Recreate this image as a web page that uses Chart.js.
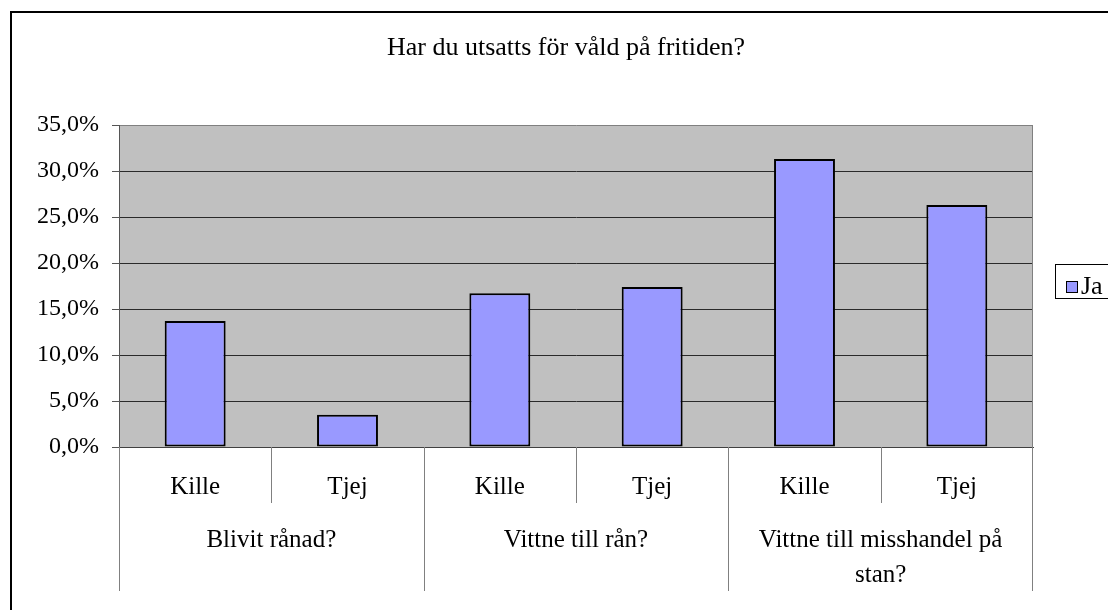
<!DOCTYPE html>
<html>
<head>
<meta charset="utf-8">
<script src="https://cdn.jsdelivr.net/npm/chart.js@4/dist/chart.umd.min.js"></script>
<style>
  html, body { margin: 0; padding: 0; background: #fff; }
  #wrap { width: 1108px; height: 610px; }
</style>
</head>
<body>
<div id="wrap"><canvas id="myChart" width="1108" height="610"></canvas></div>
<script>
// data
const titleText = 'Har du utsatts för våld på fritiden?';
const categories = ['Kille', 'Tjej', 'Kille', 'Tjej', 'Kille', 'Tjej'];
const groupLabels = [['Blivit rånad?'], ['Vittne till rån?'], ['Vittne till misshandel på', 'stan?']];
const groupSize = 2;
const seriesName = 'Ja';
const jaValues = [13.7, 3.5, 16.7, 17.4, 31.3, 26.3];
const yMin = 0, yMax = 35, yStep = 5;

const serif = "'Liberation Serif', 'Times New Roman', serif";

function pct(v) {
    return v.toFixed(1).replace('.', ',') + '%';
}

const excelLook = {
    id: 'excelLook',
    beforeDraw(chart) {
        const ctx = chart.ctx;
        const a = chart.chartArea;
        ctx.save();
        ctx.fillStyle = '#fff';
        ctx.fillRect(0, 0, chart.width, chart.height);
        ctx.fillStyle = '#c0c0c0';
        ctx.fillRect(a.left, a.top, a.right - a.left, a.bottom - a.top);
        ctx.restore();
    },
    afterDraw(chart) {
        const ctx = chart.ctx;
        const a = chart.chartArea;
        const x = chart.scales.x;
        ctx.save();

        // outer frame (only top and left are inside the picture)
        ctx.strokeStyle = '#000';
        ctx.lineWidth = 2;
        ctx.beginPath();
        ctx.moveTo(11, chart.height + 2);
        ctx.lineTo(11, 12);
        ctx.lineTo(chart.width + 2, 12);
        ctx.stroke();

        // title
        ctx.fillStyle = '#000';
        ctx.font = '26px ' + serif;
        ctx.textAlign = 'center';
        ctx.textBaseline = 'middle';
        ctx.fillText(titleText, 566, 48);

        // plot area border, right side
        ctx.strokeStyle = '#808080';
        ctx.lineWidth = 1;
        ctx.beginPath();
        ctx.moveTo(a.right - 0.5, a.top);
        ctx.lineTo(a.right - 0.5, a.bottom);
        ctx.stroke();

        // category axis: two levels of labels with separators
        const half = (x.getPixelForValue(1) - x.getPixelForValue(0)) / 2;
        ctx.strokeStyle = '#808080';
        ctx.font = '25px ' + serif;
        categories.forEach((c, i) => {
            const cx = x.getPixelForValue(i);
            ctx.fillText(c, cx, 487);
            const left = Math.round(cx - half) + 0.5;
            const isGroupEdge = i % groupSize === 0;
            ctx.beginPath();
            ctx.moveTo(left, a.bottom);
            ctx.lineTo(left, isGroupEdge ? 591 : 503);
            ctx.stroke();
        });
        const lastRight = Math.round(x.getPixelForValue(categories.length - 1) + half) - 0.5;
        ctx.beginPath();
        ctx.moveTo(lastRight, a.bottom);
        ctx.lineTo(lastRight, 591);
        ctx.stroke();

        groupLabels.forEach((lines, g) => {
            const c0 = x.getPixelForValue(g * groupSize);
            const c1 = x.getPixelForValue(g * groupSize + groupSize - 1);
            const cx = (c0 + c1) / 2;
            lines.forEach((t, k) => ctx.fillText(t, cx, 540 + k * 35));
        });

        // legend (cut off at the right edge)
        ctx.strokeStyle = '#000';
        ctx.lineWidth = 1;
        ctx.strokeRect(1055.5, 264.5, 80, 34);
        ctx.fillStyle = chart.data.datasets[0].backgroundColor;
        ctx.fillRect(1066, 281, 12, 12);
        ctx.strokeRect(1066.5, 281.5, 11, 11);
        ctx.fillStyle = '#000';
        ctx.font = '26px ' + serif;
        ctx.textAlign = 'left';
        ctx.fillText(seriesName, 1081, 287);

        ctx.restore();
    }
};

const config = {
    type: 'bar',
    data: {
        labels: categories,
        datasets: [{
            label: seriesName,
            data: jaValues,
            backgroundColor: '#9999ff',
            borderColor: '#000',
            borderWidth: 2,
            borderSkipped: false,
            barPercentage: 0.4,
            categoryPercentage: 1.0,
        }]
    },
    options: {
        responsive: false,
        animation: false,
        layout: {
            padding: { left: 0, top: 125, right: 75, bottom: 0 }
        },
        scales: {
            x: {
                grid: { display: false },
                border: { display: true, color: '#404040', width: 1 },
                ticks: { display: false },
                afterFit(scale) { scale.height = 163; }
            },
            y: {
                min: yMin,
                max: yMax,
                ticks: {
                    stepSize: yStep,
                    color: '#000',
                    padding: 13,
                    font: { family: serif, size: 24 },
                    callback: v => pct(v)
                },
                grid: {
                    color: c => (c.tick && c.tick.value === yMax) ? '#808080' : '#2a2a2a',
                    tickColor: '#555',
                    tickLength: 7,
                    lineWidth: 1
                },
                border: { display: true, color: '#555', width: 1 },
                afterFit(scale) { scale.width = 119; }
            }
        },
        plugins: {
            legend: { display: false },
            title: { display: false },
            tooltip: { enabled: false }
        }
    },
    plugins: [excelLook]
};

new Chart(document.getElementById('myChart'), config);
</script>
</body>
</html>
